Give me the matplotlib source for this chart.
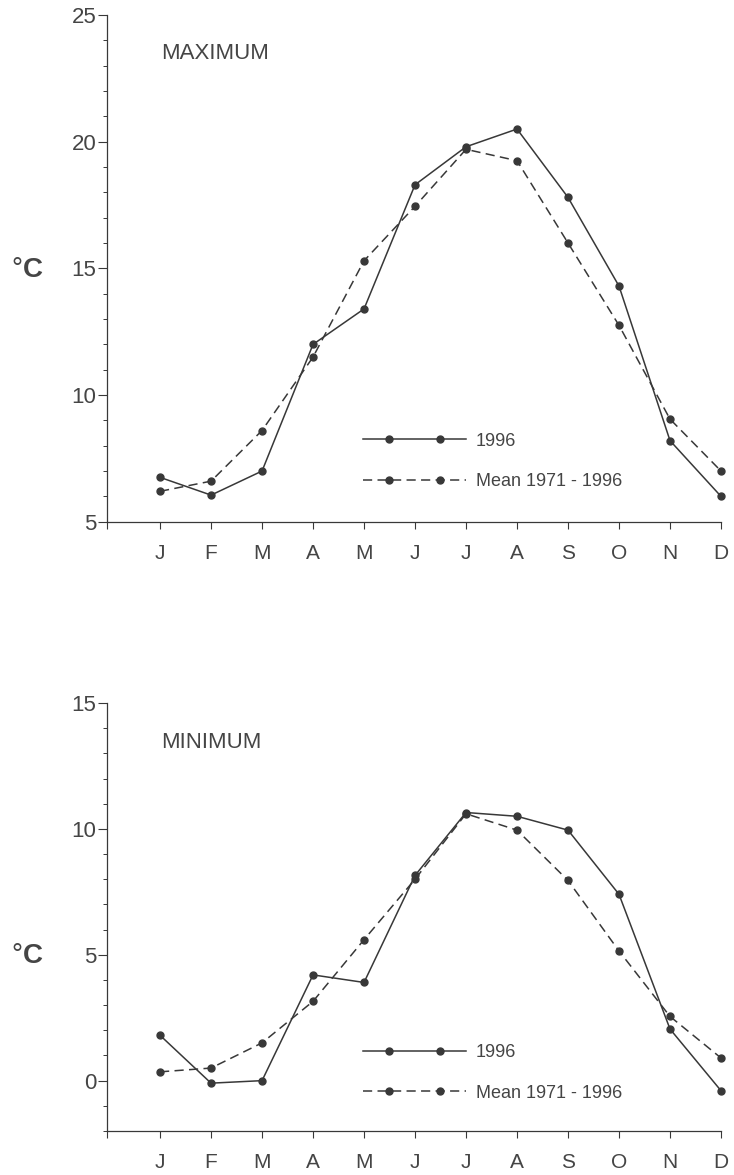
import numpy as np
import matplotlib.pyplot as plt
import matplotlib.transforms as mtransforms
from matplotlib.legend_handler import HandlerLine2D
from matplotlib.ticker import MultipleLocator

plt.rcParams['font.family'] = ['Liberation Sans', 'DejaVu Sans']

months = ["J", "F", "M", "A", "M", "J", "J", "A", "S", "O", "N", "D"]
max_1996 = [6.75, 6.05, 7.0, 12.0, 13.4, 18.3, 19.8, 20.5, 17.8, 14.3, 8.2, 6.0]
max_mean = [6.2, 6.6, 8.6, 11.5, 15.3, 17.45, 19.7, 19.25, 16.0, 12.75, 9.05, 7.0]
min_1996 = [1.8, -0.1, 0.0, 4.2, 3.9, 8.15, 10.65, 10.5, 9.95, 7.4, 2.05, -0.4]
min_mean = [0.35, 0.5, 1.5, 3.15, 5.6, 8.0, 10.6, 9.95, 7.95, 5.15, 2.55, 0.9]

ink = "#383838"
txt = "#454545"
x = np.arange(1, len(months) + 1)
xmin = -0.04


class TwoDots(HandlerLine2D):
    # line over the full handle, dots at the quarter marks
    def create_artists(self, *args, **kwargs):
        arts = super().create_artists(*args, **kwargs)
        arts[0].set_markevery([1, 3])
        return arts


def panel(ax, v1996, vmean, ylo, yhi, yticks, title, title_y, leg_y, unit_y):
    l1, = ax.plot(x, v1996, color=ink, lw=1.1, marker="o", ms=5,
                  label="1996", clip_on=False)
    l2, = ax.plot(x, vmean, color=ink, lw=1.1, ls=(0, (6, 3.5)), marker="o",
                  ms=5, label="Mean 1971 - 1996", clip_on=False)

    ax.set_xlim(xmin, 12)
    ax.set_ylim(ylo, yhi)
    ax.set_xticks(x)
    ax.set_xticklabels(months)
    ax.set_xticks([xmin], minor=True)
    ax.set_yticks(yticks)
    ax.yaxis.set_minor_locator(MultipleLocator(1))

    for s in ["top", "right"]:
        ax.spines[s].set_visible(False)
    for s in ["left", "bottom"]:
        ax.spines[s].set_color(ink)
        ax.spines[s].set_linewidth(0.9)

    ax.tick_params(axis="y", which="major", length=6.5, width=0.8, color=ink,
                   labelsize=16, labelcolor=txt, pad=1)
    ax.tick_params(axis="y", which="minor", length=3, width=0.7, color=ink)
    ax.tick_params(axis="x", which="major", length=5, width=0.8, color=ink,
                   labelsize=15, labelcolor=txt, pad=11)
    ax.tick_params(axis="x", which="minor", length=5, width=0.8, color=ink)

    ax.text(0.0875, title_y, title, transform=ax.transAxes, fontsize=16,
            color=txt, ha="left", va="baseline")

    hm = {l1: TwoDots(marker_pad=0, numpoints=5),
          l2: TwoDots(marker_pad=0, numpoints=5)}
    ax.legend(handles=[l1, l2], loc="center left", bbox_to_anchor=(0.417, leg_y),
              frameon=False, fontsize=13, handlelength=5.7, handletextpad=0.55,
              labelspacing=1.3, borderpad=0, borderaxespad=0, handler_map=hm,
              labelcolor=txt)

    tr = mtransforms.blended_transform_factory(ax.figure.transFigure, ax.transData)
    ax.text(0.0150, unit_y, "°", transform=tr, fontsize=20, color=txt,
            ha="left", va="baseline")
    ax.text(0.0305, unit_y, "C", transform=tr, fontsize=20, fontweight="bold",
            color=txt, ha="left", va="baseline")


fig = plt.figure(figsize=(7.34, 11.75), dpi=100)
ax1 = fig.add_axes([0.1458, 0.5560, 0.8365, 0.4312])
ax2 = fig.add_axes([0.1458, 0.03745, 0.8365, 0.36426])

panel(ax1, max_1996, max_mean, 5, 25, [5, 10, 15, 20, 25], "MAXIMUM",
      0.9126, 0.1188, 14.67)
panel(ax2, min_1996, min_mean, -2, 15, [0, 5, 10, 15], "MINIMUM",
      0.895, 0.1358, 4.667)

fig.savefig("out.png", dpi=100, facecolor="white")
